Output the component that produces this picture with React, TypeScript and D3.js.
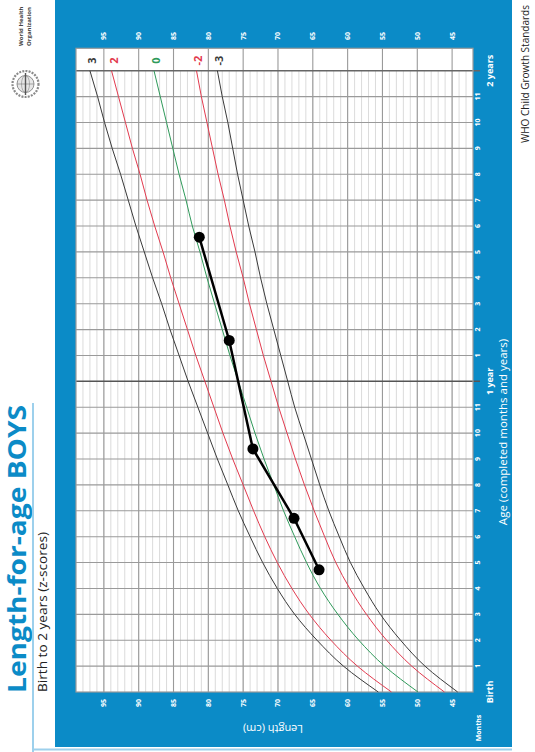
import React from "react";
import * as d3 from "d3";

const months = d3.range(0, 25);
const sdNeg3 = [44.2, 48.9, 52.4, 55.3, 57.6, 59.6, 61.2, 62.7, 64.0, 65.2, 66.4, 67.6, 68.6, 69.6, 70.6, 71.6, 72.5, 73.3, 74.2, 75.0, 75.8, 76.5, 77.2, 78.0, 78.7];
const sdNeg2 = [46.1, 50.8, 54.4, 57.3, 59.7, 61.7, 63.3, 64.8, 66.2, 67.5, 68.7, 69.9, 71.0, 72.1, 73.1, 74.1, 75.0, 76.0, 76.9, 77.7, 78.6, 79.4, 80.2, 81.0, 81.7];
const sd0 = [49.9, 54.7, 58.4, 61.4, 63.9, 65.9, 67.6, 69.2, 70.6, 72.0, 73.3, 74.5, 75.7, 76.9, 78.0, 79.1, 80.2, 81.2, 82.3, 83.2, 84.2, 85.1, 86.0, 86.9, 87.8];
const sd2 = [53.7, 58.6, 62.4, 65.5, 68.0, 70.1, 71.9, 73.5, 75.0, 76.5, 77.9, 79.2, 80.5, 81.8, 83.0, 84.2, 85.4, 86.5, 87.7, 88.8, 89.8, 90.9, 91.9, 92.9, 93.9];
const sd3 = [55.6, 60.6, 64.4, 67.6, 70.1, 72.2, 74.0, 75.7, 77.2, 78.7, 80.1, 81.5, 82.9, 84.2, 85.5, 86.7, 88.0, 89.2, 90.4, 91.5, 92.6, 93.8, 94.9, 95.9, 97.0];

const childAges = [4.72, 6.71, 9.39, 13.58, 17.57];
const childLengths = [64.1, 67.7, 73.6, 77.0, 81.3];

const lengthTicks = [45, 50, 55, 60, 65, 70, 75, 80, 85, 90, 95];
const lengthDomain = [42, 99];

const BLUE = "#0b8bc7";
const FONT = "'Open Sans', 'DejaVu Sans', sans-serif";

export default function App() {
  const plotL = 76, plotR = 473, plotT = 48.3, plotB = 692;
  const x = d3.scaleLinear().domain(lengthDomain).range([plotR, plotL]);
  const y = d3.scaleLinear().domain([0, 24]).range([692, 70.7]);

  const minorLens = d3.range(lengthDomain[0] + 1, lengthDomain[1]);
  const curves = [
    { key: "3", vals: sd3, color: "#3a3a3a" },
    { key: "2", vals: sd2, color: "#e23a4e" },
    { key: "0", vals: sd0, color: "#2f9a5a" },
    { key: "-2", vals: sdNeg2, color: "#e23a4e" },
    { key: "-3", vals: sdNeg3, color: "#3a3a3a" },
  ];
  const line = d3.line<[number, number]>()
    .x((d) => x(d[1]))
    .y((d) => y(d[0]))
    .curve(d3.curveMonotoneY);

  const childPts: [number, number][] = childAges.map((a, i) => [a, childLengths[i]]);
  const childLine = d3.line<[number, number]>().x((d) => x(d[1])).y((d) => y(d[0]));

  const rot = (px: number, py: number, a = -90) => `translate(${px},${py}) rotate(${a})`;

  return (
    <svg width={535} height={752} style={{ position: "absolute", left: 0, top: 0, background: "#fff" }} fontFamily={FONT}>
      {/* WHO logo */}
      <g>
        <circle cx={25.5} cy={84} r={13} fill="#fff" stroke="#8a8a8a" strokeWidth={2.2} strokeDasharray="2 1.2" />
        <circle cx={25.5} cy={84} r={8.5} fill="#e6e6e6" stroke="#777" strokeWidth={0.8} />
        <ellipse cx={25.5} cy={84} rx={4} ry={8.5} fill="none" stroke="#888" strokeWidth={0.6} />
        <line x1={17} y1={84} x2={34} y2={84} stroke="#777" strokeWidth={0.6} />
        <line x1={25.5} y1={73} x2={25.5} y2={95} stroke="#555" strokeWidth={1.4} />
        <text transform={rot(23, 46)} fontSize={6} fontWeight={700} fill="#444">World Health</text>
        <text transform={rot(31, 46)} fontSize={6} fontWeight={700} fill="#444">Organization</text>
      </g>

      {/* Title */}
      <text transform={rot(26, 693)} fontSize={25} fontWeight={700} fill={BLUE} textLength={288} lengthAdjust="spacingAndGlyphs">
        Length-for-age BOYS
      </text>
      <line x1={33} y1={403} x2={33} y2={752} stroke="#9dd0ec" strokeWidth={2} />
      <text transform={rot(47, 692)} fontSize={13} fill="#222" textLength={160} lengthAdjust="spacingAndGlyphs">Birth to 2 years (z-scores)</text>

      {/* Blue panel */}
      <rect x={55} y={0} width={457} height={747} fill={BLUE} />
      <line x1={33} y1={749.5} x2={512} y2={749.5} stroke="#9dd0ec" strokeWidth={2} />

      {/* Plot area */}
      <rect x={plotL} y={plotT} width={plotR - plotL} height={plotB - plotT} fill="#fff" />
      {minorLens.map((v) => (
        <line key={"mv" + v} x1={x(v)} x2={x(v)} y1={y(24)} y2={plotB} stroke="#d2d2d2" strokeWidth={0.8} />
      ))}
      {lengthTicks.map((v) => (
        <line key={"Mv" + v} x1={x(v)} x2={x(v)} y1={plotT} y2={plotB} stroke="#9a9a9a" strokeWidth={1.1} />
      ))}
      {months.filter((m) => m !== 12 && m !== 24 && m !== 0).map((m) => (
        <line key={"h" + m} x1={plotL} x2={plotR} y1={y(m)} y2={y(m)} stroke="#9a9a9a" strokeWidth={1.1} />
      ))}
      <line x1={plotL} x2={plotR + 7} y1={y(12)} y2={y(12)} stroke="#555" strokeWidth={1.5} />
      <line x1={plotL} x2={plotR + 7} y1={y(24)} y2={y(24)} stroke="#666" strokeWidth={1.5} />
      <rect x={plotL} y={plotT} width={plotR - plotL} height={plotB - plotT} fill="none" stroke="#9a9a9a" strokeWidth={1.2} />

      {/* z-score curves */}
      {curves.map((c) => (
        <path key={c.key} d={line(months.map((m, i) => [m, c.vals[i]]))!} fill="none" stroke={c.color} strokeWidth={1} />
      ))}
      {curves.map((c) => (
        <text key={"l" + c.key} transform={rot(x(c.vals[24]) + 1.5, 60.5)} fontSize={11} fontWeight={700}
          fill={c.color} textAnchor="middle" dominantBaseline="central">{c.key}</text>
      ))}

      {/* child data */}
      <path d={childLine(childPts)!} fill="none" stroke="#000" strokeWidth={2.5} />
      {childPts.map((p, i) => (
        <circle key={"c" + i} cx={x(p[1])} cy={y(p[0])} r={5.5} fill="#000" />
      ))}

      {/* length tick labels */}
      {lengthTicks.map((v) => (
        <g key={"t" + v}>
          <text transform={rot(x(v), 36)} fontSize={7} fontWeight={700} fill="#fff" textAnchor="middle" dominantBaseline="central">{v}</text>
          <text transform={rot(x(v), 703)} fontSize={7} fontWeight={700} fill="#fff" textAnchor="middle" dominantBaseline="central">{v}</text>
        </g>
      ))}
      <text transform={rot(273, 729, 180)} fontSize={11} fill="#fff" textAnchor="middle" dominantBaseline="central">Length (cm)</text>

      {/* month labels */}
      {months.filter((m) => m % 12 !== 0).map((m) => (
        <text key={"m" + m} transform={rot(477, y(m))} fontSize={7} fontWeight={700} fill="#fff" textAnchor="middle" dominantBaseline="central">{m % 12}</text>
      ))}
      <text transform={rot(489, y(0))} fontSize={9} fontWeight={700} fill="#fff" textAnchor="middle" dominantBaseline="central">Birth</text>
      <text transform={rot(489, y(12))} fontSize={9} fontWeight={700} fill="#fff" textAnchor="middle" dominantBaseline="central">1 year</text>
      <text transform={rot(489, y(24))} fontSize={9} fontWeight={700} fill="#fff" textAnchor="middle" dominantBaseline="central">2 years</text>
      <text transform={rot(502, 432)} fontSize={11.5} fill="#fff" textAnchor="middle" dominantBaseline="central">Age (completed months and years)</text>
      <text transform={rot(478, 728)} fontSize={7} fontWeight={700} fill="#fff" textAnchor="middle" dominantBaseline="central">Months</text>

      {/* footer */}
      <text transform={rot(525, 5)} fontSize={10} fill="#222" textAnchor="end" dominantBaseline="central">WHO Child Growth Standards</text>
    </svg>
  );
}
